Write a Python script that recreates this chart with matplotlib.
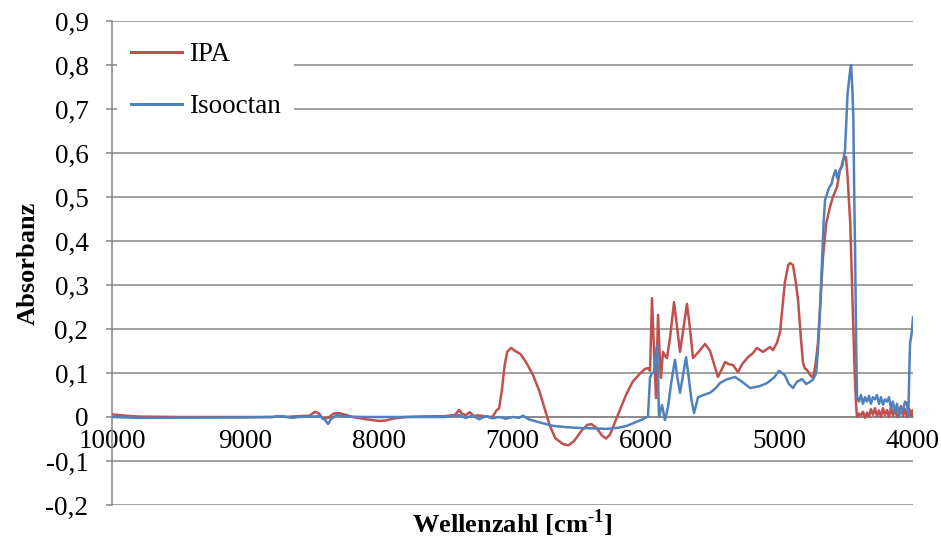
import matplotlib
matplotlib.use("Agg")
import matplotlib.pyplot as plt
from matplotlib.ticker import FuncFormatter, MultipleLocator

# Spectral data: wavenumber [cm^-1] and absorbance
ipa_wn = [10000, 9900, 9800, 9500, 9000, 8800, 8750, 8700, 8600, 8520, 8480, 8450,
          8420, 8380, 8340, 8300, 8250, 8200, 8100, 8000, 7950, 7900, 7800, 7700,
          7500, 7430, 7400, 7380, 7350, 7320, 7290, 7260, 7200, 7150, 7120, 7100,
          7080, 7060, 7040, 7010, 6980, 6940, 6900, 6850, 6800, 6760, 6720, 6680,
          6620, 6580, 6540, 6480, 6440, 6410, 6370, 6330, 6300, 6270, 6230, 6190,
          6150, 6100, 6050, 6010, 5985, 5970, 5955, 5940, 5925, 5910, 5895, 5888,
          5873, 5855, 5843, 5820, 5790, 5770, 5745, 5720, 5693, 5670, 5648, 5600,
          5558, 5520, 5490, 5461, 5430, 5408, 5380, 5348, 5311, 5280, 5236, 5200,
          5169, 5124, 5090, 5071, 5049, 5020, 4996, 4960, 4935, 4920, 4899, 4880,
          4861, 4840, 4824, 4810, 4794, 4770, 4749, 4730, 4712, 4690, 4674, 4650,
          4622, 4600, 4569, 4547, 4535, 4524, 4502, 4490, 4470, 4457, 4445, 4434,
          4425, 4419, 4405, 4390, 4375, 4360, 4345, 4330, 4315, 4300, 4285, 4270,
          4255, 4240, 4225, 4210, 4195, 4180, 4165, 4150, 4135, 4120, 4105, 4090,
          4075, 4060, 4045, 4030, 4015, 4005, 4000]
ipa_abs = [0.006, 0.003, 0.001, 0.0, 0.0, 0.0, 0.002, 0.0, 0.002, 0.003, 0.012, 0.008,
           -0.004, -0.002, 0.008, 0.009, 0.005, 0.0, -0.005, -0.009, -0.008, -0.004, 0.0, 0.001,
           0.002, 0.005, 0.016, 0.008, 0.004, 0.011, 0.002, 0.004, 0.001, 0.0, 0.015, 0.02,
           0.06, 0.115, 0.148, 0.157, 0.15, 0.143, 0.125, 0.098, 0.06, 0.02, -0.02, -0.048,
           -0.062, -0.064, -0.055, -0.03, -0.018, -0.016, -0.025, -0.042, -0.049, -0.04, -0.01, 0.02,
           0.05, 0.08, 0.097, 0.109, 0.111, 0.105, 0.27, 0.15, 0.043, 0.232, 0.12, 0.089,
           0.148, 0.138, 0.134, 0.18, 0.261, 0.21, 0.148, 0.2, 0.257, 0.2, 0.134, 0.15,
           0.166, 0.15, 0.12, 0.091, 0.11, 0.125, 0.12, 0.118, 0.102, 0.12, 0.136, 0.145,
           0.157, 0.148, 0.155, 0.159, 0.152, 0.168, 0.193, 0.305, 0.345, 0.35, 0.345, 0.31,
           0.266, 0.18, 0.123, 0.11, 0.107, 0.095, 0.089, 0.12, 0.168, 0.28, 0.364, 0.44,
           0.477, 0.5, 0.523, 0.561, 0.57, 0.584, 0.591, 0.545, 0.44, 0.305, 0.18, 0.077,
           0.02, 0.0, 0.008, 0.003, 0.012, -0.002, 0.01, 0.0, 0.018, 0.005, 0.02, 0.002,
           0.015, 0.0, 0.02, 0.004, 0.016, 0.0, 0.022, 0.003, 0.02, 0.0, 0.012, 0.025,
           0.002, 0.018, 0.0, 0.02, 0.003, 0.015, 0.005]

iso_wn = [10000, 9800, 9000, 8800, 8727, 8650, 8600, 8494, 8440, 8400, 8382, 8360,
          8315, 8250, 8100, 7800, 7500, 7400, 7350, 7300, 7250, 7200, 7150, 7100,
          7050, 7000, 6950, 6921, 6880, 6800, 6700, 6600, 6494, 6400, 6292, 6200,
          6142, 6080, 6030, 5993, 5985, 5970, 5955, 5940, 5930, 5918, 5910, 5903,
          5880, 5858, 5835, 5810, 5783, 5765, 5745, 5720, 5700, 5680, 5660, 5640,
          5610, 5570, 5521, 5480, 5446, 5400, 5333, 5280, 5221, 5150, 5094, 5040,
          5004, 4960, 4930, 4899, 4870, 4831, 4800, 4772, 4749, 4725, 4712, 4695,
          4682, 4670, 4659, 4630, 4610, 4599, 4580, 4568, 4550, 4530, 4509, 4490,
          4470, 4464, 4455, 4447, 4440, 4434, 4425, 4419, 4405, 4390, 4375, 4360,
          4345, 4330, 4315, 4300, 4285, 4270, 4255, 4240, 4225, 4210, 4195, 4180,
          4165, 4150, 4135, 4120, 4105, 4090, 4075, 4060, 4045, 4035, 4028, 4022,
          4010, 4000]
iso_abs = [0.0, -0.002, -0.001, 0.0, 0.002, -0.002, 0.0, 0.001, 0.002, -0.008, -0.016, -0.005,
           0.005, 0.001, 0.0, 0.0, 0.0, 0.004, -0.002, 0.003, -0.005, 0.002, -0.003, 0.0,
           -0.004, 0.0, -0.002, 0.003, -0.005, -0.012, -0.02, -0.023, -0.025, -0.026, -0.027, -0.024,
           -0.02, -0.012, -0.006, 0.0, 0.002, 0.09, 0.1, 0.102, 0.13, 0.164, 0.1, 0.0,
           0.027, -0.007, 0.023, 0.08, 0.13, 0.09, 0.055, 0.1, 0.136, 0.09, 0.04, 0.009,
           0.045, 0.05, 0.055, 0.065, 0.077, 0.085, 0.091, 0.08, 0.066, 0.07, 0.077, 0.09,
           0.105, 0.095, 0.075, 0.066, 0.08, 0.086, 0.075, 0.08, 0.085, 0.1, 0.152, 0.25,
           0.35, 0.44, 0.493, 0.52, 0.53, 0.545, 0.561, 0.543, 0.56, 0.57, 0.607, 0.736,
           0.79, 0.8, 0.75, 0.682, 0.5, 0.38, 0.15, 0.045, 0.035, 0.05, 0.03, 0.045,
           0.035, 0.048, 0.03, 0.045, 0.04, 0.05, 0.03, 0.045, 0.028, 0.04, 0.035, 0.045,
           0.02, 0.035, 0.01, 0.03, 0.0, 0.02, 0.015, 0.035, 0.03, 0.0, 0.1, 0.168,
           0.19, 0.227]

series_labels = ["IPA", "Isooctan"]
series_colors = ["#C0504D", "#4F81BD"]
x_ticks = [10000, 9000, 8000, 7000, 6000, 5000, 4000]

plt.rcParams["font.family"] = ["Liberation Serif", "DejaVu Serif"]
plt.rcParams["mathtext.fontset"] = "custom"
plt.rcParams["mathtext.rm"] = "Liberation Serif"
plt.rcParams["mathtext.bf"] = "Liberation Serif:bold"

grid_color = "#868686"


def comma_fmt(v, pos):
    if abs(v) < 1e-9:
        return "0"
    return f"{v:.1f}".replace(".", ",")


fig = plt.figure(figsize=(9.41, 5.40), dpi=100)
ax = fig.add_axes([112 / 941, 1 - 505 / 540, (913 - 112) / 941, (505 - 21) / 540])

ax.plot(ipa_wn, ipa_abs, color=series_colors[0], lw=1.8, label=series_labels[0], zorder=3)
ax.plot(iso_wn, iso_abs, color=series_colors[1], lw=1.8, label=series_labels[1], zorder=3)

ax.set_xlim(10000, 4000)
ax.set_ylim(-0.2, 0.9)
ax.set_xticks(x_ticks)
ax.yaxis.set_major_locator(MultipleLocator(0.1))
ax.yaxis.set_major_formatter(FuncFormatter(comma_fmt))

ax.grid(axis="y", color=grid_color, lw=1.1, zorder=0)
ax.set_axisbelow(True)
for s in ["top", "right"]:
    ax.spines[s].set_visible(False)
ax.spines["bottom"].set_position(("data", 0))
ax.spines["bottom"].set_color(grid_color)
ax.spines["bottom"].set_linewidth(1.1)
ax.spines["left"].set_color(grid_color)
ax.spines["left"].set_linewidth(1.1)

ax.tick_params(axis="y", length=4, width=1.1, color=grid_color, pad=13, labelsize=19.5)
ax.tick_params(axis="x", length=0, pad=9, labelsize=19.5)

ax.set_ylabel("Absorbanz", fontsize=19, fontweight="bold")
ax.yaxis.set_label_coords(-0.09, 0.5)
fig.text(0.5 * (112 + 913) / 941, 1 - 523 / 540,
         r"Wellenzahl [cm$^{\text{-}\mathbf{1}}$]",
         fontsize=19, fontweight="bold", ha="center", va="center")

leg = ax.legend(loc="upper left", bbox_to_anchor=(0.0, 0.995), fontsize=19.5,
                frameon=True, fancybox=False, framealpha=1, edgecolor="none",
                facecolor="white", handlelength=1.9, handletextpad=0.25,
                labelspacing=1.0, borderpad=0.5, borderaxespad=0.2)
for line in leg.get_lines():
    line.set_linewidth(2.2)

fig.savefig("out.png", dpi=100)
